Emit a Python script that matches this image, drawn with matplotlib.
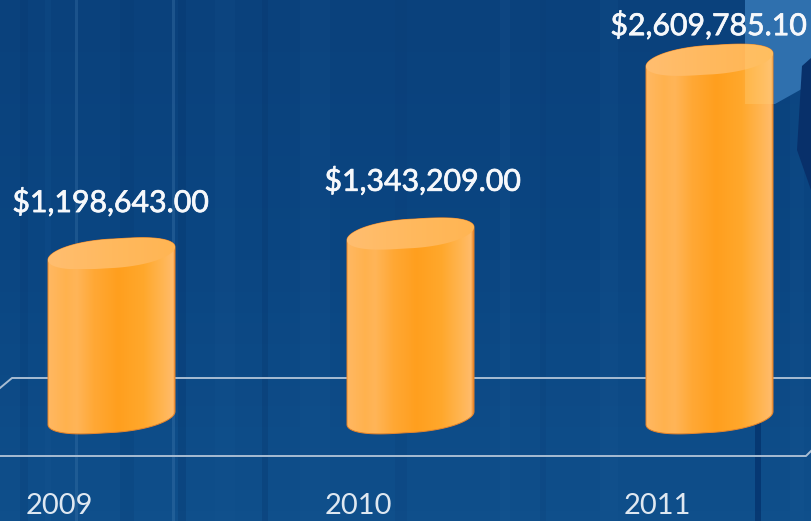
import numpy as np
import matplotlib
matplotlib.use('Agg')
import matplotlib.pyplot as plt
import matplotlib.patheffects as pe
from matplotlib.colors import LinearSegmentedColormap
from matplotlib.patches import Polygon

years = ['2009', '2010', '2011']
amounts = [1198643.00, 1343209.00, 2609785.10]
amount_labels = ['$1,198,643.00', '$1,343,209.00', '$2,609,785.10']

# axis scale: how many dollars in one pixel, and pixels per category
per_px = 7290.0
cat_px = 299.0

side_cmap = LinearSegmentedColormap.from_list('side', [
    (0.0, '#ffb862'), (0.14, '#ffb24e'), (0.22, '#ffb558'), (0.36, '#ffa835'),
    (0.55, '#ff9f1e'), (0.75, '#ffa82c'), (0.90, '#ffb552'), (0.98, '#ffbb6a'),
    (1.0, '#e8852a')])
top_cmap = LinearSegmentedColormap.from_list('top', ['#ffbe70', '#ffb95e', '#ffb553'])

# vertical streaks in the backdrop: x, width, colour, alpha
streaks = [(20, 8, '#06356c', .2), (45, 6, '#1d5f9c', .15), (75, 3, '#4f86b8', .25),
           (120, 14, '#06386f', .18), (172, 3, '#4f86b8', .28), (178, 8, '#06356c', .3),
           (215, 20, '#1a5a96', .15), (262, 6, '#08386f', .35), (300, 30, '#1c5c98', .12),
           (395, 12, '#0a3c75', .18), (500, 10, '#1c5c98', .18), (540, 6, '#0a3c75', .2),
           (600, 18, '#1c5c98', .15), (755, 6, '#04306a', .7), (790, 14, '#1c5c98', .15)]


def slab(cx, cy):
    # rounded, tilted disc round (cx, cy)
    t = np.linspace(0, 2 * np.pi, 200)
    c = np.sign(np.cos(t)) * np.abs(np.cos(t)) ** 0.8
    return cx + 63.5 / cat_px * c, cy + (6.5 * np.cos(t) + 14.5 * np.sin(t)) * per_px


fig = plt.figure(figsize=(8.11, 5.21), dpi=100)

# backdrop, in pixels
bg = fig.add_axes([0, 0, 1, 1])
bg.set_xlim(0, 811)
bg.set_ylim(521, 0)
bg.axis('off')
bg.imshow(np.linspace(0, 1, 50).reshape(-1, 1), extent=(0, 811, 521, 0), aspect='auto', zorder=0,
          cmap=LinearSegmentedColormap.from_list('bg', ['#0a417c', '#0b4682', '#0f4f8b']))
for x, w, c, a in streaks:
    bg.axvspan(x, x + w, color=c, alpha=a, lw=0, zorder=1)
bg.fill([745, 811, 811, 800, 775, 745], [0, 0, 82, 90, 104, 104], color='#2f70ae', lw=0, zorder=2)
bg.fill([802, 811, 811, 797], [66, 58, 190, 150], color='#08306a', lw=0, zorder=2)
bg.plot([0, 12, 811], [388, 378, 378], color='#a8bdd3', lw=1.4, zorder=3)
bg.plot([0, 806, 811], [456, 456, 451], color='#a8bdd3', lw=1.4, zorder=3)

# chart, in dollars and category positions
ax = fig.add_axes([0, 0, 1, 1], facecolor='none')
xlim = (-111.5 / cat_px, (811 - 111.5) / cat_px)
ylim = (-(521 - 418) * per_px, 418 * per_px)

for i, v in enumerate(amounts):
    bx, by = slab(i, 0)
    tx, ty = slab(i, v)
    left = i - 63.5 / cat_px
    right = i + 63.5 / cat_px
    # body outline: bottom half of the base disc + top half of the top disc
    outline = np.vstack([np.column_stack([bx[100:], by[100:]]),
                         np.column_stack([tx[:100], ty[:100]])])
    body = Polygon(outline, closed=True, fc='none', ec='#e8852a', lw=0.7, zorder=3)
    ax.add_patch(body)
    im = ax.imshow(np.linspace(0, 1, 128).reshape(1, -1), extent=(left, right, by.min(), ty.max()),
                   aspect='auto', cmap=side_cmap, zorder=2)
    im.set_clip_path(body)
    cap = Polygon(np.column_stack([tx, ty]), closed=True, fc='none', ec='none', zorder=4)
    ax.add_patch(cap)
    im2 = ax.imshow(np.linspace(0, 1, 128).reshape(1, -1), extent=(left, right, ty.min(), ty.max()),
                    aspect='auto', cmap=top_cmap, zorder=4)
    im2.set_clip_path(cap)
    if i == 2:
        # the light panel behind shows through the last bar
        glow = Polygon([(745, 0), (811, 0), (811, 82), (800, 90), (775, 104), (745, 104)],
                       transform=bg.transData, fc='#ffd27a', ec='none', alpha=0.32, zorder=5)
        ax.add_patch(glow)
        clip = Polygon(outline, transform=ax.transData, fc='none', ec='none')
        ax.add_patch(clip)
        glow.set_clip_path(clip)
ax.set_xlim(xlim)
ax.set_ylim(ylim)
ax.axis('off')

# label offsets in points
label_dx = [-1, 12, -1]
label_dy = [37, 38, 25]
thicker = [pe.withStroke(linewidth=0.5, foreground='#f6f8fb')]
for i, v in enumerate(amounts):
    ax.annotate(amount_labels[i], (i, v), xytext=(label_dx[i] * 0.72, label_dy[i]),
                textcoords='offset points', ha='center', va='center', color='#f6f8fb',
                fontsize=21.8, family='Lato', path_effects=thicker, zorder=6)
    ax.annotate(years[i], (i, 0), xytext=(-52 * 0.72, -88 * 0.72), textcoords='offset points',
                ha='center', va='center', color='#dfe8f1', fontsize=21, family='Lato', zorder=6)

fig.savefig('out.png', dpi=100)
